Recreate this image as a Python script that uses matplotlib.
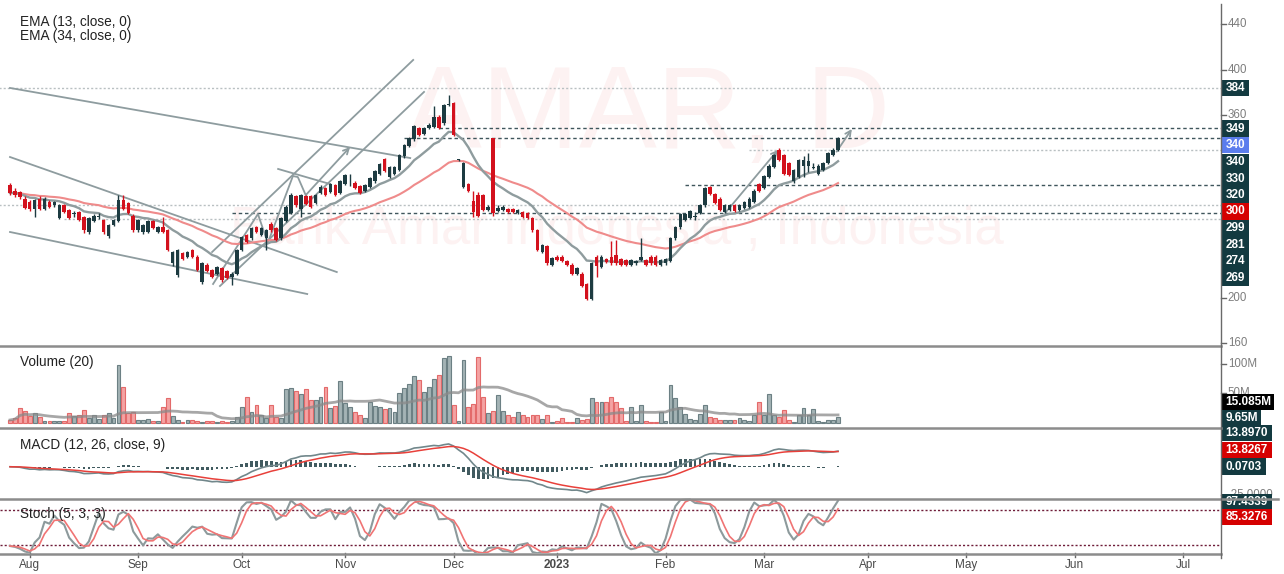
import numpy as np
import pandas as pd
import matplotlib
matplotlib.use('Agg')
import matplotlib.pyplot as plt
from matplotlib.patches import Rectangle
from matplotlib.lines import Line2D

# ---- daily bars, BAMAR (Jul 2022 - Mar 2023) ----
opens = [299, 294, 293, 287, 284, 278, 287, 278, 284, 281, 270, 281, 277, 273, 275, 271, 258, 267, 271, 268,
         254, 264, 267, 286, 283, 272, 259, 258, 258, 267, 258, 262, 259, 230, 220, 239, 236, 242, 236, 214,
         229, 224, 221, 226, 223, 218, 221, 242, 255, 252, 262, 255, 252, 265, 261, 252, 267, 274, 289, 278,
         289, 289, 283, 292, 296, 293, 299, 292, 300, 302, 301, 298, 294, 297, 302, 309, 322, 306, 309, 312,
         324, 333, 339, 349, 344, 349, 350, 359, 353, 369, 371, 321, 297, 300, 285, 290, 290, 277, 340, 276,
         277, 278, 278, 274, 275, 274, 270, 259, 240, 245, 229, 236, 236, 232, 229, 221, 221, 212, 199, 236,
         227, 234, 236, 237, 234, 233, 229, 230, 233, 233, 236, 236, 229, 230, 232, 252, 262, 268, 270, 271,
         274, 281, 297, 291, 287, 275, 277, 281, 277, 279, 280, 284, 300, 296, 306, 315, 330, 325, 318, 302,
         306, 316, 316, 314, 309, 312, 318, 325, 330]
highs = [301, 296, 294, 289, 286, 287, 289, 288, 286, 285, 282, 282, 278, 276, 276, 272, 271, 273, 274, 269,
         265, 269, 290, 290, 284, 273, 269, 265, 268, 268, 263, 271, 260, 241, 243, 240, 241, 243, 237, 231,
         230, 225, 228, 227, 224, 222, 243, 254, 256, 262, 263, 262, 260, 266, 262, 271, 281, 292, 290, 291,
         290, 290, 291, 299, 297, 301, 300, 303, 309, 309, 302, 299, 300, 306, 312, 318, 323, 316, 316, 326,
         335, 341, 352, 350, 350, 353, 368, 360, 370, 378, 372, 322, 319, 301, 294, 293, 291, 281, 340, 281,
         281, 279, 279, 278, 276, 275, 271, 260, 247, 246, 236, 237, 237, 233, 230, 227, 222, 213, 231, 237,
         237, 235, 250, 251, 235, 234, 234, 233, 252, 234, 237, 237, 234, 235, 253, 263, 274, 274, 277, 275,
         282, 297, 298, 292, 288, 282, 282, 282, 282, 285, 288, 295, 301, 308, 317, 326, 331, 326, 319, 313,
         322, 324, 327, 318, 317, 319, 328, 331, 341]
lows = [290, 288, 287, 278, 276, 271, 277, 277, 279, 280, 269, 274, 269, 271, 267, 257, 256, 266, 269, 256,
        252, 263, 266, 277, 273, 258, 258, 256, 257, 260, 257, 257, 241, 228, 218, 233, 235, 235, 223, 212,
        222, 217, 220, 214, 216, 211, 220, 241, 248, 251, 257, 254, 242, 258, 250, 251, 266, 273, 280, 271,
        281, 279, 282, 291, 289, 292, 289, 291, 299, 298, 295, 291, 293, 296, 301, 308, 310, 305, 308, 311,
        323, 332, 338, 342, 343, 348, 349, 348, 352, 368, 342, 320, 296, 293, 271, 271, 276, 276, 272, 275,
        276, 274, 274, 273, 270, 269, 258, 241, 239, 229, 228, 232, 231, 228, 220, 220, 209, 198, 198, 218,
        226, 230, 229, 229, 228, 228, 228, 229, 232, 228, 229, 228, 228, 229, 231, 251, 260, 267, 269, 268,
        273, 280, 290, 282, 276, 274, 276, 275, 276, 278, 279, 283, 293, 295, 305, 314, 320, 308, 307, 301,
        305, 306, 310, 313, 308, 311, 317, 324, 329]
closes = [292, 290, 288, 279, 278, 286, 278, 287, 280, 284, 281, 275, 270, 274, 268, 259, 270, 272, 272, 258,
          264, 268, 286, 278, 274, 259, 268, 264, 267, 261, 262, 258, 242, 240, 242, 234, 240, 236, 224, 230,
          223, 218, 227, 215, 217, 221, 242, 253, 249, 261, 258, 261, 259, 259, 251, 270, 280, 290, 281, 290,
          282, 280, 290, 297, 290, 300, 290, 302, 308, 302, 296, 292, 299, 305, 311, 317, 311, 315, 315, 325,
          334, 340, 351, 343, 349, 352, 359, 349, 369, 370, 343, 321, 318, 294, 275, 272, 277, 280, 274, 279,
          280, 275, 275, 277, 271, 270, 259, 242, 246, 230, 235, 233, 232, 229, 221, 226, 210, 199, 230, 228,
          236, 231, 230, 230, 229, 229, 233, 232, 236, 229, 230, 229, 233, 234, 252, 262, 273, 273, 276, 272,
          281, 296, 291, 283, 277, 281, 281, 276, 281, 284, 287, 294, 294, 307, 316, 325, 321, 309, 308, 312,
          321, 321, 320, 315, 316, 318, 327, 330, 340]
# volume in millions of shares
volumes = [5.1, 7.9, 24.9, 20.9, 11.9, 17.5, 9.6, 3.4, 3.4, 3.4, 3.4, 3.4, 17.5, 11.9, 13.6, 22.6, 7.9, 13.6,
           6.2, 13.6, 17.5, 7.9, 98.3, 61.6, 16.4, 19.2, 5.1, 5.1, 6.2, 3.4, 3.4, 27.7, 41.8, 11.9, 5.1, 2.3,
           5.1, 5.1, 3.4, 2.3, 3.4, 3.4, 1.1, 3.4, 2.3, 3.4, 10.7, 27.7, 44.6, 19.2, 30.5, 13.6, 7.9, 30.5,
           10.7, 7.9, 57.0, 58.8, 54.5, 48.9, 57.0, 38.7, 38.7, 43.5, 61.6, 24.9, 28.8, 71.8, 33.3, 27.7, 19.2,
           13.6, 7.9, 36.2, 28.8, 27.7, 23.2, 24.9, 19.2,
           50.3, 58.8, 66.0, 79.7, 72.9, 53.1, 61.6, 74.0, 81.4, 109.6, 114.1, 30.5, 3.4, 106.8, 27.7, 32.2,
           111.3, 43.5, 17.5, 20.9, 47.5,
           20.9, 13.6, 9.6, 19.2, 13.6, 10.7, 13.6, 13.6, 6.2, 13.6, 2.3, 3.4, 7.9, 2.3, 2.3, 7.9, 5.1, 7.3,
           41.8, 36.2, 36.2, 36.2, 43.5, 36.2, 24.9, 3.4, 27.7, 3.4, 30.5, 3.4, 1.1, 2.3, 19.2, 3.4, 64.4, 41.8,
           27.7, 15.3, 6.2, 5.1, 15.3, 30.5, 10.7, 7.9, 5.1, 5.1, 5.1, 5.1, 7.9, 5.1, 3.4, 13.6, 35.0, 13.6,
           49.2, 13.6, 9.6, 22.0, 5.1, 1.5, 13.6, 24.9, 13.6, 23.8, 3.4, 2.3, 5.1, 5.1, 9.65]

month_pos = [4, 26, 47, 68, 90, 111, 133, 153, 174, 194, 216, 238]
month_labels = ['Aug', 'Sep', 'Oct', 'Nov', 'Dec', '2023', 'Feb', 'Mar', 'Apr', 'May', 'Jun', 'Jul']

# user drawn horizontal levels: price, first bar, dark?
levels = [384, 349, 340, 330, 299, 281, 274, 269]
level_start = [-3, 87, 80, 150, 137, -3, 45, 11]
level_dark = [False, True, True, False, True, False, True, False]

# trend lines (bar, price)
trend_lines = [[(0, 384.2), (81.2, 322.6)],
               [(0, 323.5), (66.3, 222.4)],
               [(0, 257.6), (60.3, 203.1)],
               [(41.0, 240.0), (81.8, 408.8)],
               [(42.6, 210.1), (84.0, 380.7)],
               [(54.4, 313.0), (64.9, 299.8)],
               [(41.2, 211.9), (50.3, 273.4), (52.3, 247.9), (57.4, 306.8), (58.4, 305.9), (60.0, 290.0)]]
arrows = [[(60.0, 290.0), (69.0, 332.3)],
          [(145.1, 274.3), (155.8, 329.7)],
          [(167.7, 328.2), (170.8, 348.1)]]

price_ticks = [440, 400, 360, 200, 160]
price_tags = ['384', '349', '340', '340', '330', '320', '300', '299', '281', '274', '269']
vol_tags = ['15.085M', '9.65M']
macd_tags = ['13.8970', '13.8267', '0.0703']
stoch_tags = ['97.4339', '85.3276']

W, H = 1284, 574
RIGHT = 1221
TEAL = '#133a40'
BULL = '#1d3b41'
BEAR = '#d3111d'

plt.rcParams['font.family'] = ['Liberation Sans', 'DejaVu Sans']
fig = plt.figure(figsize=(W / 100, H / 100), dpi=100)
fig.patch.set_facecolor('white')

o = np.array(opens, float)
hi = np.array(highs, float)
lo = np.array(lows, float)
c = np.array(closes, float)
v = np.array(volumes) * 1e6
x = np.arange(len(c))
up = c >= o


def panel(top, bot, ylim):
    ax = fig.add_axes([0, 1 - bot / H, RIGHT / W, (bot - top) / H])
    ax.set_xlim(-2.03, 245.7)
    ax.set_ylim(*ylim)
    for s in ax.spines.values():
        s.set_visible(False)
    ax.set_xticks([])
    ax.set_yticks([])
    ax.patch.set_alpha(0)
    return ax


def right_tick(ax, val, text):
    tr = ax.get_yaxis_transform()
    ax.plot([1.0, 1.0045], [val, val], color='#666666', lw=1, transform=tr, clip_on=False)
    ax.text(1.0055, val, text, transform=tr, color='#7d7d7d', fontsize=8.3, va='center', ha='left',
            clip_on=False)


def tag(y, text, color, fg='white'):
    w = sum(3.5 if ch == '.' else (8.5 if ch == 'M' else 6.4) for ch in text) + 8
    fig.add_artist(Rectangle((1222 / W, 1 - (y + 8.2) / H), w / W, 16.4 / H, transform=fig.transFigure,
                             fc=color, ec='none', zorder=5))
    fig.text(1225.5 / W, 1 - y / H, text, color=fg, fontsize=8.5, fontweight='bold', va='center',
             ha='left', zorder=6)


# ---------------- price panel ----------------
axp = panel(0, 346, (157.4, 461.5))
axp.text(0.53, 0.66, 'AMAR, D', transform=axp.transAxes, fontsize=84, color='#fdf2f2', ha='center',
         va='center', zorder=0)
axp.text(0.505, 0.335, 'Bank Amar Indonesia , Indonesia', transform=axp.transAxes, fontsize=38,
         color='#fdf2f2', ha='center', va='center', zorder=0)

for lv, st, dk in zip(levels, level_start, level_dark):
    if dk:
        axp.plot([st, 246], [lv, lv], color='#3f565c', lw=1, ls=(0, (2.5, 2)), zorder=1)
    else:
        axp.plot([st, 246], [lv, lv], color='#b9c0c2', lw=1, ls=(0, (1.5, 1.5)), zorder=1)

for pts in trend_lines:
    xs, ys = zip(*pts)
    axp.plot(xs, ys, color='#8e9c9f', lw=1.3, zorder=2)
for a, b in arrows:
    axp.annotate('', xy=b, xytext=a, arrowprops=dict(arrowstyle='->', color='#8e9c9f', lw=1.3,
                                                     shrinkA=0, shrinkB=0), zorder=2)

ema13 = pd.Series(c).ewm(span=13, adjust=False).mean()
ema34 = pd.Series(c).ewm(span=34, adjust=False).mean()
axp.plot(x, ema34, color='#ef8b8b', lw=1.5, zorder=3)
axp.plot(x, ema13, color='#8f9c9e', lw=1.7, zorder=3)

cols = np.where(up, BULL, BEAR)
axp.vlines(x, lo, hi, colors=cols, lw=1, zorder=4)
axp.bar(x, np.maximum(np.abs(c - o), 0.7), bottom=np.minimum(o, c), width=0.72, color=cols, zorder=5)

for t in price_ticks:
    right_tick(axp, t, str(t))

# ---------------- volume panel ----------------
axv = panel(346, 428, (-8.5e6, 130.5e6))
fc = np.where(up, '#a4b3b5', '#f4a3a3')
ec = np.where(up, '#6c8084', '#e36a6a')
axv.bar(x, v, width=0.78, color=fc, edgecolor=ec, lw=0.8, zorder=2)
vma = pd.Series(v).rolling(20, min_periods=1).mean()
axv.plot(x, vma, color='#8a8a8a', lw=2, alpha=0.75, zorder=3)
right_tick(axv, 100e6, '100M')
right_tick(axv, 50e6, '50M')

# ---------------- MACD panel ----------------
axm = panel(428, 498, (-27.9, 34.6))
ema12 = pd.Series(c).ewm(span=12, adjust=False).mean()
ema26 = pd.Series(c).ewm(span=26, adjust=False).mean()
macd = ema12 - ema26
signal = macd.ewm(span=9, adjust=False).mean()
hist = macd - signal
axm.bar(x, hist, width=0.55, color='#415b60', zorder=2)
axm.plot(x, macd, color='#71878b', lw=1.2, zorder=3)
axm.plot(x, signal, color='#e8403a', lw=1.1, zorder=4)
right_tick(axm, -25, '-25.0000')

# ---------------- Stoch panel ----------------
axs = panel(498, 553, (6.2, 100.5))
ll = pd.Series(lo).rolling(5, min_periods=1).min()
hh = pd.Series(hi).rolling(5, min_periods=1).max()
raw = 100 * (pd.Series(c) - ll) / (hh - ll)
k = raw.rolling(3, min_periods=1).mean()
d = k.rolling(3, min_periods=1).mean()
for lv in (80, 20):
    axs.axhline(lv, color='#6e1c38', lw=1, ls=(0, (1.5, 1.5)), zorder=1)
axs.plot(x, d, color='#f07474', lw=1.2, zorder=3)
axs.plot(x, k, color='#8d9a9c', lw=1.5, zorder=2)

tr = axs.get_xaxis_transform()
for p, lab in zip(month_pos, month_labels):
    axs.plot([p, p], [0, -0.07], color='#666666', lw=1, transform=tr, clip_on=False)
    axs.text(p, -0.22, lab, transform=tr, ha='center', va='center', fontsize=8.5, color='#4a4a4a',
             fontweight='bold' if lab == '2023' else 'normal', clip_on=False)

# indicator titles
for ty, tt in [(22, 'EMA (13, close, 0)'), (36, 'EMA (34, close, 0)'), (362, 'Volume (20)'),
               (445, 'MACD (12, 26, close, 9)'), (514, 'Stoch (5, 3, 3)')]:
    fig.text(20 / W, 1 - ty / H, tt, fontsize=9.8, color='#222222', va='center')

# right-side value tags
tag_y = [88, 128.5, 145, 162, 178.5, 195, 211.5, 228, 244.5, 261, 277.5]
tag_c = [TEAL, TEAL, '#5b7ded', TEAL, TEAL, TEAL, '#d50000', TEAL, TEAL, TEAL, TEAL]
for yy, tx, cc in zip(tag_y, price_tags, tag_c):
    tag(yy, tx, cc)
tag(402, vol_tags[0], '#000000')
tag(418, vol_tags[1], TEAL)
tag(433, macd_tags[0], TEAL)
tag(450, macd_tags[1], '#d50000')
tag(466.5, macd_tags[2], TEAL)
tag(502, stoch_tags[0], TEAL)
tag(517, stoch_tags[1], '#d50000')

# separators and axis line
for yy, x1, lw in [(346, RIGHT, 1.8), (428, RIGHT, 1.8), (499, 1278, 1.8), (554, RIGHT, 1.8)]:
    fig.add_artist(Line2D([0, x1 / W], [1 - yy / H] * 2, color='#8c8c8c', lw=lw, zorder=7))
fig.add_artist(Line2D([RIGHT / W] * 2, [1 - 4 / H, 1 - 558 / H], color='#6a6a6a', lw=1, zorder=7))

fig.savefig('out.png', dpi=100)
